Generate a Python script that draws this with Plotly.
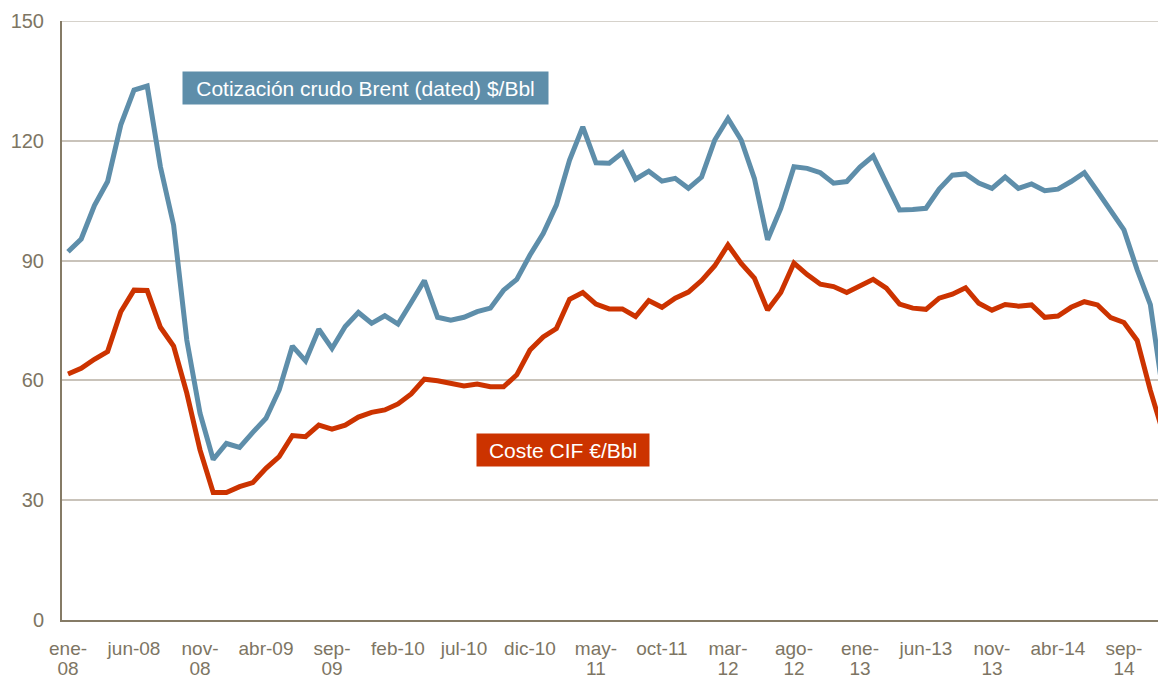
import plotly.graph_objects as go

# Monthly series, Jan 2008 .. Dec 2014 (last point beyond visible edge)
months_idx = list(range(84))

brent = [92.2, 95.4, 103.8, 109.8, 124.0, 132.7, 133.7, 113.5, 98.9, 70.1,
         51.8, 40.2, 44.2, 43.2, 47.0, 50.5, 57.6, 68.6, 64.9, 72.8,
         68.0, 73.5, 77.0, 74.3, 76.2, 74.1, 79.5, 85.0, 75.8, 75.1,
         75.8, 77.2, 78.1, 82.6, 85.3, 91.4, 96.8, 103.9, 115.2, 123.5,
         114.5, 114.4, 117.0, 110.4, 112.4, 109.9, 110.6, 108.1, 110.9, 120.2,
         125.6, 120.2, 110.6, 95.2, 103.1, 113.5, 113.1, 112.0, 109.4, 109.8,
         113.4, 116.2, 109.4, 102.7, 102.8, 103.1, 107.9, 111.4, 111.7, 109.4,
         108.1, 110.9, 108.1, 109.2, 107.5, 107.9, 109.8, 112.0, 107.3, 102.3,
         97.7, 87.7, 79.0, 56.0]

cif = [61.6, 63.0, 65.3, 67.2, 77.2, 82.6, 82.5, 73.3, 68.6, 56.8,
       42.6, 31.9, 31.9, 33.4, 34.4, 38.0, 40.9, 46.2, 45.9, 48.8,
       47.8, 48.8, 50.8, 52.0, 52.6, 54.1, 56.6, 60.3, 59.9, 59.4,
       58.6, 59.1, 58.4, 58.4, 61.4, 67.6, 70.9, 73.0, 80.3, 82.0,
       79.1, 77.9, 77.9, 76.0, 80.0, 78.3, 80.6, 82.1, 85.0, 88.7,
       93.9, 89.3, 85.6, 77.6, 82.0, 89.4, 86.5, 84.1, 83.5, 82.0,
       83.6, 85.3, 83.1, 79.1, 78.1, 77.8, 80.6, 81.6, 83.2, 79.3,
       77.6, 79.0, 78.6, 78.9, 75.8, 76.1, 78.3, 79.7, 78.9, 75.7,
       74.5, 70.0, 57.5, 46.5]

tick_idx = [0, 5, 10, 15, 20, 25, 30, 35, 40, 45, 50, 55, 60, 65, 70, 75, 80]
# tick labels, first and second line (wrapped labels as in the original)
tick_line1 = ["ene-", "jun-08", "nov-", "abr-09", "sep-", "feb-10", "jul-10",
              "dic-10", "may-", "oct-11", "mar-", "ago-", "ene-", "jun-13",
              "nov-", "abr-14", "sep-"]
tick_line2 = ["08", "", "08", "", "09", "", "", "", "11", "", "12", "12", "13",
              "", "13", "", "14"]

y_ticks = [0, 30, 60, 90, 120, 150]

BLUE = "#5E8EAA"
RED = "#CC3300"
AXIS = "#857B66"
GRID = "#C9C3BA"
TXT = "#7D7563"
FONT = "Liberation Sans, Arial, sans-serif"
XRANGE = [-0.455, 82.58]

fig = go.Figure()
fig.add_trace(go.Scatter(x=months_idx, y=brent, mode="lines",
                         line=dict(color=BLUE, width=5), name="Brent"))
fig.add_trace(go.Scatter(x=months_idx, y=cif, mode="lines",
                         line=dict(color=RED, width=5), name="CIF"))
# invisible helper trace so the second-line tick axis is drawn
fig.add_trace(go.Scatter(x=[months_idx[0]], y=[cif[0]], xaxis="x2", mode="lines",
                         line=dict(width=0), hoverinfo="skip", showlegend=False))

# top gridline at 150 (edge of plot area)
fig.add_shape(type="line", xref="paper", yref="y", x0=0, x1=1, y0=150, y1=150,
              line=dict(color=GRID, width=1.5), layer="below")

fig.update_layout(
    template="none",
    width=1158, height=678,
    margin=dict(l=62, r=0, t=21, b=58, pad=0),
    paper_bgcolor="white", plot_bgcolor="white",
    showlegend=False,
    font=dict(family=FONT, size=20, color=TXT),
    xaxis=dict(range=XRANGE, tickmode="array", tickvals=tick_idx,
               ticktext=tick_line1, showgrid=False, zeroline=False,
               showline=True, linecolor=AXIS, linewidth=2, ticks="",
               ticklabelstandoff=10, automargin=False,
               tickfont=dict(size=19, color=TXT)),
    xaxis2=dict(range=XRANGE, overlaying="x", anchor="y", side="bottom",
                tickmode="array", tickvals=tick_idx, ticktext=tick_line2,
                showgrid=False, zeroline=False, showline=False, ticks="",
                ticklabelstandoff=35, automargin=False,
                tickfont=dict(size=19, color=TXT)),
    yaxis=dict(range=[0, 150], tickmode="array", tickvals=y_ticks,
               showgrid=True, gridcolor=GRID, gridwidth=1.5, zeroline=False,
               showline=True, linecolor=AXIS, linewidth=2, ticks="",
               ticklabelstandoff=12, automargin=False,
               tickfont=dict(size=20, color=TXT)),
    annotations=[
        dict(text="Cotización crudo Brent (dated) $/Bbl", xref="paper", yref="paper",
             x=0.2769, y=0.888, xanchor="center", yanchor="middle",
             showarrow=False, bgcolor=BLUE,
             font=dict(family=FONT, size=21, color="white"),
             width=357, height=24, borderpad=4),
        dict(text="Coste CIF €/Bbl", xref="paper", yref="paper",
             x=0.457, y=0.2838, xanchor="center", yanchor="middle",
             showarrow=False, bgcolor=RED,
             font=dict(family=FONT, size=21, color="white"),
             width=164, height=24, borderpad=4),
    ],
)

fig.write_html("out.html", config={"displayModeBar": False},
               post_script="document.body.style.margin='0';document.body.style.overflow='hidden';")
